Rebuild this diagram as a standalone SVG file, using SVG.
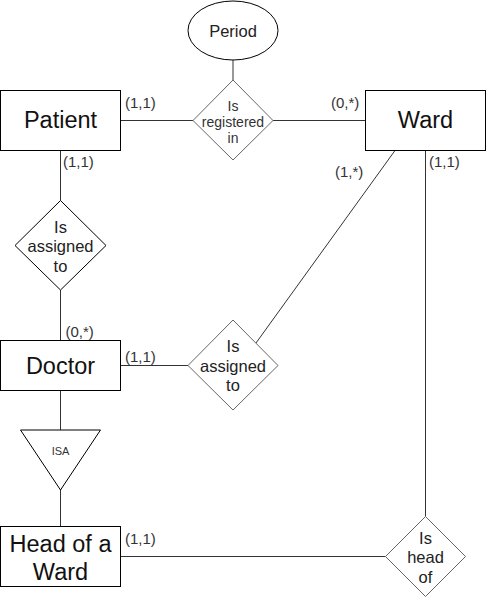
<svg xmlns="http://www.w3.org/2000/svg" width="486" height="598" viewBox="0 0 486 598">
<style>
.ent{fill:#fff;stroke:#000;stroke-width:1}
.rel{fill:#fff;stroke:#666;stroke-width:1}
.relb{fill:#fff;stroke:#000;stroke-width:1}
.ln{fill:none;stroke:#333;stroke-width:1}
text{font-family:"Liberation Sans",Arial,sans-serif;dominant-baseline:central}
.big{font-size:23.5px;fill:#111;text-anchor:middle}
.mid{font-size:16.5px;fill:#222;text-anchor:middle}
.sm{font-size:14px;fill:#333;text-anchor:middle}
.lbl{font-size:15px;fill:#333;text-anchor:start}
.isa{font-size:11px;fill:#333;text-anchor:middle}
</style>
<rect width="486" height="598" fill="#fff"/>
<g id="connectors">
<line class="ln" x1="233" y1="60" x2="233" y2="80"/>
<line class="ln" x1="120.5" y1="120.5" x2="193" y2="120.5"/>
<line class="ln" x1="273" y1="120.5" x2="365.5" y2="120.5"/>
<line class="ln" x1="60.5" y1="150.5" x2="60.5" y2="200.5"/>
<line class="ln" x1="60.5" y1="290" x2="60.5" y2="340.5"/>
<line class="ln" x1="120.5" y1="365.5" x2="188" y2="365.5"/>
<line class="ln" x1="395" y1="150.5" x2="256" y2="343"/>
<line class="ln" x1="425.5" y1="150.5" x2="425.5" y2="516.5"/>
<line class="ln" x1="60.5" y1="390.5" x2="60.5" y2="430"/>
<line class="ln" x1="60.5" y1="490" x2="60.5" y2="526.5"/>
<line class="ln" x1="120.5" y1="556.5" x2="385.5" y2="556.5"/>
</g>
<g id="period">
<ellipse class="ent" cx="233" cy="30.5" rx="45" ry="29.5"/>
<text class="mid" x="233" y="30.5">Period</text>
</g>
<g id="patient">
<rect class="ent" x="0.5" y="90.5" width="120" height="60"/>
<text class="big" x="60.5" y="120">Patient</text>
</g>
<g id="ward">
<rect class="ent" x="365.5" y="90.5" width="120" height="60"/>
<text class="big" x="425.5" y="120">Ward</text>
</g>
<g id="is-registered-in">
<polygon class="rel" points="233,80 273,120.5 233,160 193,120.5"/>
<text class="sm" x="233" y="106">Is</text>
<text class="sm" x="233" y="122">registered</text>
<text class="sm" x="233" y="138">in</text>
</g>
<g id="is-assigned-to-1">
<polygon class="relb" points="60.5,200.5 106,245.5 60.5,290 15,245.5"/>
<text class="mid" x="60.5" y="226.5">Is</text>
<text class="mid" x="60.5" y="246">assigned</text>
<text class="mid" x="60.5" y="265.5">to</text>
</g>
<g id="doctor">
<rect class="ent" x="0.5" y="340.5" width="120" height="50"/>
<text class="big" x="60.5" y="365.5">Doctor</text>
</g>
<g id="is-assigned-to-2">
<polygon class="rel" points="233,320 278,365.5 233,410 188,365.5"/>
<text class="mid" x="233" y="346">Is</text>
<text class="mid" x="233" y="365.5">assigned</text>
<text class="mid" x="233" y="385">to</text>
</g>
<g id="isa">
<polygon class="relb" points="20.5,430 100.5,430 60.5,490"/>
<text class="isa" x="60.5" y="451">ISA</text>
</g>
<g id="head-of-a-ward">
<rect class="ent" x="0.5" y="526.5" width="120" height="60"/>
<text class="big" x="60.5" y="544">Head of a</text>
<text class="big" x="60.5" y="571.5">Ward</text>
</g>
<g id="is-head-of">
<polygon class="rel" points="425.5,516.5 465.5,556.5 425.5,596.5 385.5,556.5"/>
<text class="mid" x="425.5" y="538">Is</text>
<text class="mid" x="425.5" y="557">head</text>
<text class="mid" x="425.5" y="577">of</text>
</g>
<g id="labels">
<text class="lbl" x="125" y="102">(1,1)</text>
<text class="lbl" x="331" y="102">(0,*)</text>
<text class="lbl" x="63" y="161.5">(1,1)</text>
<text class="lbl" x="335" y="171.5">(1,*)</text>
<text class="lbl" x="429" y="161.5">(1,1)</text>
<text class="lbl" x="65.5" y="331">(0,*)</text>
<text class="lbl" x="125" y="356">(1,1)</text>
<text class="lbl" x="125" y="538">(1,1)</text>
</g>
</svg>
